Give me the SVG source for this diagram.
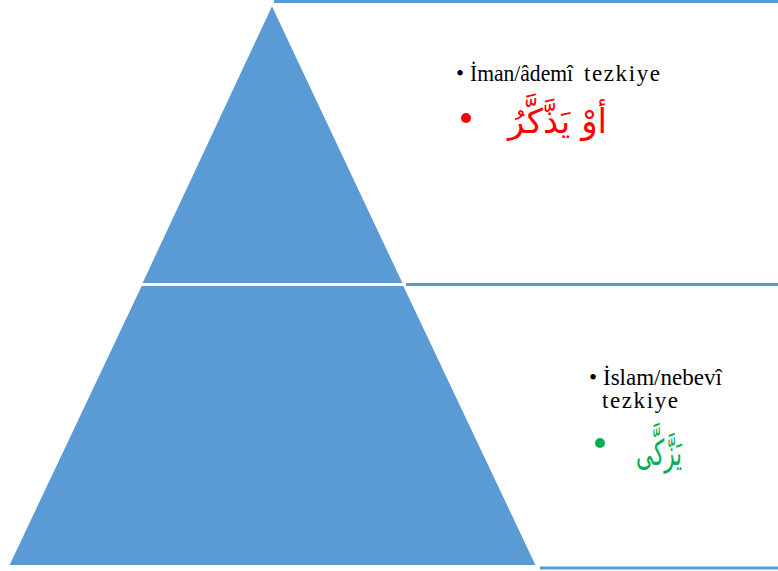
<svg xmlns="http://www.w3.org/2000/svg" width="778" height="571" viewBox="0 0 778 571">
<style>
.shape{fill:#5B9BD5;stroke:#FFFFFF;stroke-width:2}
.rule{stroke:#5B9BD5;stroke-width:3;fill:none}
.lbl{font-family:'Liberation Serif','Times New Roman',serif;font-size:23px;fill:#000000}
.sp{letter-spacing:1.6px}
.ar{font-family:'DejaVu Sans',sans-serif}
</style>
<rect width="778" height="571" fill="#FFFFFF"/>
<g id="top-level">
<polygon class="shape" points="272,4 404,284 141,284"/>
<line class="rule" x1="274" y1="1.5" x2="778" y2="1.5"/>
<text class="lbl" x="456" y="81">•<tspan x="470" textLength="103" lengthAdjust="spacingAndGlyphs">İman/âdemî</tspan><tspan class="sp" x="584">tezkiye</tspan></text>
<circle cx="466" cy="118" r="5" fill="#FF0000"/>
<text class="ar" x="607" y="133" font-size="34" fill="#FF0000" direction="rtl" text-anchor="start">أوْ يَذَّكَّرُ</text>
</g>
<g id="bottom-level">
<polygon class="shape" points="141,285 404,285 537,566 8,566"/>
<line class="rule" x1="406" y1="284.5" x2="778" y2="284.5"/>
<line class="rule" x1="540" y1="568" x2="778" y2="568"/>
<text class="lbl" x="589" y="385">•<tspan x="603">İslam/nebevî</tspan></text>
<text class="lbl sp" x="602" y="408">tezkiye</text>
<circle cx="600" cy="443" r="5" fill="#00B050"/>
<text class="ar" x="682" y="465" font-size="36" fill="#00B050" direction="rtl" text-anchor="start" textLength="46" lengthAdjust="spacingAndGlyphs">يَزَّكَّى</text>
</g>
</svg>
